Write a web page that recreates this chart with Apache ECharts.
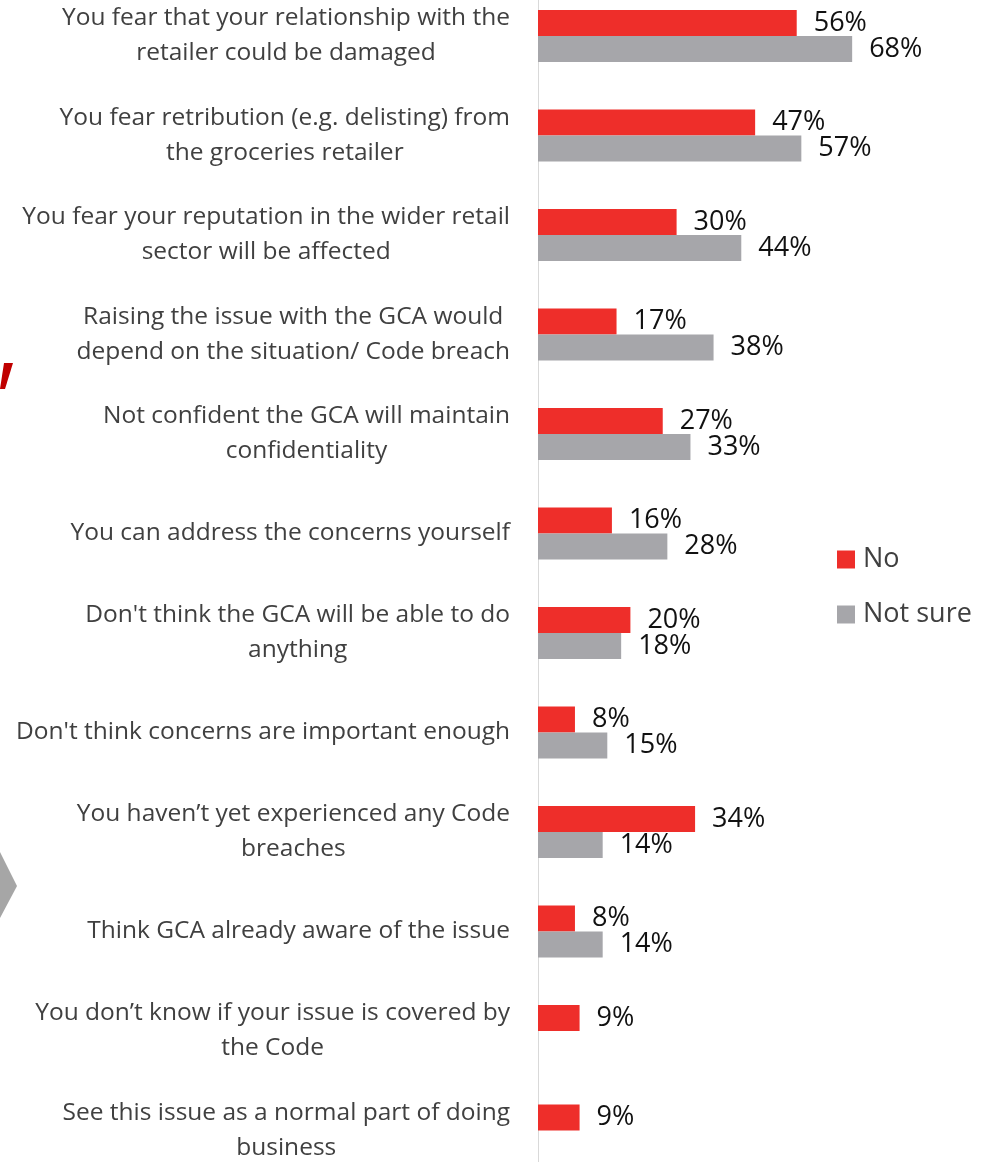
<!DOCTYPE html>
<html><head><meta charset="utf-8">
<script src="https://cdn.jsdelivr.net/npm/echarts@6/dist/echarts.min.js"></script>
<style>html,body{margin:0;padding:0;background:#fff}#c{width:988px;height:1162px}</style>
</head><body><div id="c"></div>
<script>
var categories = [
  "You fear that your relationship with the\nretailer could be damaged",
  "You fear retribution (e.g. delisting) from\nthe groceries retailer",
  "You fear your reputation in the wider retail\nsector will be affected",
  "Raising the issue with the GCA would\ndepend on the situation/ Code breach",
  "Not confident the GCA will maintain\nconfidentiality",
  "You can address the concerns yourself",
  "Don't think the GCA will be able to do\nanything",
  "Don't think concerns are important enough",
  "You haven\u2019t yet experienced any Code\nbreaches",
  "Think GCA already aware of the issue",
  "You don\u2019t know if your issue is covered by\nthe Code",
  "See this issue as a normal part of doing\nbusiness"
];
var seriesNames = ["No", "Not sure"];
var noValues = [56, 47, 30, 17, 27, 16, 20, 8, 34, 8, 9, 9];
var notSureValues = [68, 57, 44, 38, 33, 28, 18, 15, 14, 14, null, null];

var FONT = "'Open Sans', 'Noto Sans', sans-serif";
var chart = echarts.init(document.getElementById('c'), null, {renderer: 'canvas'});
var labelStyle = {show: true, position: 'right', distance: 17, fontSize: 27, color: '#111', fontFamily: FONT,
  formatter: function (p) { return p.value == null ? '' : p.value + '%'; }};
chart.setOption({
  animation: false,
  backgroundColor: '#fff',
  grid: {left: 538, top: -13.75, height: 1194, width: 369.6, containLabel: false, outerBoundsMode: 'none'},
  legend: {
    orient: 'vertical', left: 837, top: 546, padding: 0, itemWidth: 18, itemHeight: 18, itemGap: 28,
    icon: 'rect', textStyle: {fontSize: 27, color: '#404040', fontFamily: FONT, padding: [0, 0, 0, 3]},
    data: seriesNames
  },
  xAxis: {type: 'value', min: 0, max: 80, show: false},
  yAxis: {
    type: 'category', inverse: true, data: categories,
    axisLine: {show: true, lineStyle: {color: '#D9D9D9', width: 1}},
    axisTick: {show: false}, splitLine: {show: false},
    axisLabel: {
      margin: 28, align: 'right', color: '#404040', fontSize: 24.5, fontFamily: FONT, lineHeight: 35,
      formatter: function (v) { return v.split('\n').map(function (l) { return '{c|' + l + '}'; }).join('\n'); },
      rich: {c: {align: 'center', fontSize: 24.5, lineHeight: 35, color: '#404040', fontFamily: FONT}}
    }
  },
  series: [
    {name: seriesNames[0], type: 'bar', data: noValues, barWidth: 26, barGap: '0%', itemStyle: {color: '#EE2E2A'}, label: labelStyle},
    {name: seriesNames[1], type: 'bar', data: notSureValues, barWidth: 26, barGap: '0%', itemStyle: {color: '#A6A6AA'}, label: labelStyle}
  ],
  graphic: [
    {type: 'polygon', shape: {points: [[0, 389], [4, 363], [13, 363], [5, 389]]}, style: {fill: '#C00000'}},
    {type: 'polygon', shape: {points: [[0, 852], [17, 886], [0, 918]]}, style: {fill: '#A6A6A6'}}
  ]
});
</script></body></html>
